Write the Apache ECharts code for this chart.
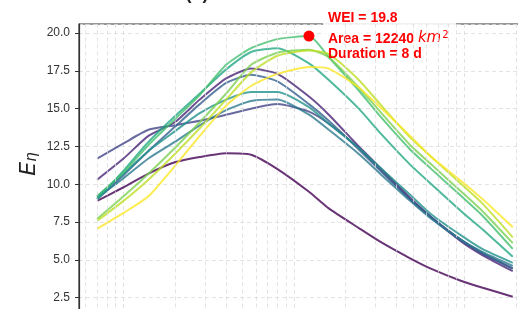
<!DOCTYPE html>
<html>
<head>
<meta charset="utf-8">
<title>WEI curves</title>
<script src="https://cdn.jsdelivr.net/npm/echarts@6.0.0/dist/echarts.min.js"></script>
<style>
  html, body { margin: 0; padding: 0; background: #fff; }
  #chart { width: 518px; height: 309px; }
</style>
</head>
<body>
<div id="chart"></div>
<script>
// area (km2) on a log axis, one curve per event duration
var AREA = [700, 1000, 1400, 2000, 2800, 4000, 5600, 8000, 12240, 16000, 24000, 32000, 48000, 64000, 96000, 128000, 192000];

var D1  = [8.9, 9.8, 10.7, 11.45, 11.8, 12.05, 11.95, 11.0, 9.5, 8.4, 7.1, 6.2, 5.1, 4.4, 3.6, 3.15, 2.56];
var D2  = [10.3, 11.7, 13.2, 14.1, 15.6, 17.0, 17.65, 17.3, 15.8, 14.6, 12.5, 11.1, 9.1, 7.8, 6.2, 5.3, 4.25];
var D3  = [11.7, 12.7, 13.6, 13.9, 14.2, 14.6, 15.0, 15.3, 14.8, 14.0, 12.4, 11.0, 9.0, 7.8, 6.3, 5.4, 4.45];
var D4  = [9.0, 10.6, 12.2, 13.8, 15.3, 16.7, 17.25, 16.8, 15.3, 14.2, 12.3, 10.9, 9.0, 7.8, 6.3, 5.45, 4.4];
var D5  = [9.1, 10.4, 11.7, 12.8, 13.9, 14.9, 15.5, 15.6, 14.6, 13.6, 12.0, 10.7, 8.9, 7.7, 6.3, 5.5, 4.6];
var D6  = [9.2, 10.7, 12.2, 13.5, 14.7, 15.6, 16.1, 16.1, 15.1, 14.0, 12.4, 11.1, 9.3, 8.0, 6.6, 5.7, 4.8];
var D7  = [9.0, 10.9, 12.8, 14.5, 16.0, 17.6, 18.75, 19.0, 18.0, 16.9, 15.0, 13.4, 11.3, 10.0, 8.2, 7.0, 5.21];
var D8  = [9.2, 10.8, 12.6, 14.3, 15.9, 17.9, 19.0, 19.6, 19.8, 18.4, 16.2, 14.5, 12.3, 11.0, 9.2, 7.9, 5.72];
var D9  = [7.7, 9.2, 10.7, 12.4, 14.1, 16.0, 17.9, 18.7, 18.9, 18.4, 16.4, 14.8, 12.6, 11.3, 9.5, 8.2, 6.1];
var D10 = [7.58, 8.9, 10.3, 12.0, 13.7, 15.6, 17.4, 18.5, 18.85, 18.6, 16.9, 15.3, 13.1, 11.8, 10.0, 8.7, 6.49];
var D11 = [7.05, 8.1, 9.2, 11.2, 13.2, 15.2, 16.5, 17.3, 17.75, 17.65, 16.4, 15.1, 13.2, 11.8, 10.2, 9.0, 7.15];

var DURATIONS = [1, 2, 3, 4, 5, 6, 7, 8, 9, 10, 11];
var COLORS = ['#440154', '#482475', '#414487', '#355f8d', '#2a788e', '#21918c',
              '#22a884', '#44bf70', '#7ad151', '#bddf26', '#fde725'];

// the WEI point (max over all curves)
var WEI_POINT = [12240, 19.8];

// minor log grid lines (2..9 x 10^k)
var MINOR_X = [600, 700, 800, 900,
               2000, 3000, 4000, 5000, 6000, 7000, 8000, 9000,
               20000, 30000, 40000, 50000, 60000, 70000, 80000, 90000,
               200000];

var Y_TICKS_STEP = 2.5;

var chart = echarts.init(document.getElementById('chart'), null, { renderer: 'canvas' });

var curves = [D1, D2, D3, D4, D5, D6, D7, D8, D9, D10, D11];
var gridColor = '#dcdcdc';

var series = [];
// dummy series carrying the minor vertical grid lines
series.push({
    type: 'line',
    data: [],
    z: 1,
    silent: true,
    markLine: {
        silent: true,
        symbol: 'none',
        label: { show: false },
        animation: false,
        lineStyle: { color: gridColor, type: [4, 3], width: 0.8 },
        data: MINOR_X.map(function (v) { return { xAxis: v }; })
    }
});
curves.forEach(function (vals, i) {
    series.push({
        type: 'line',
        name: DURATIONS[i] + ' d',
        data: AREA.map(function (a, j) { return [a, vals[j]]; }),
        showSymbol: false,
        smooth: 0.2,
        silent: true,
        z: 2,
        lineStyle: { width: 2, color: COLORS[i], opacity: 0.8 }
    });
});
series.push({
    type: 'scatter',
    data: [WEI_POINT],
    symbolSize: 11,
    z: 3,
    silent: true,
    itemStyle: { color: '#ff0000', opacity: 1 }
});

var option = {
    animation: false,
    backgroundColor: '#fff',
    grid: {
        left: 79, top: 24, right: -14, bottom: -26.4,
        containLabel: false,
        outerBoundsMode: 'none',
        show: true,
        borderColor: '#333', borderWidth: 1.2,
        backgroundColor: 'transparent'
    },
    xAxis: {
        type: 'log',
        logBase: 10,
        min: 548,
        max: 249000,
        axisLine: { show: false },
        axisTick: { show: false },
        axisLabel: { show: false },
        splitLine: { show: true, lineStyle: { color: gridColor, type: [4, 3], width: 0.8 } }
    },
    yAxis: {
        type: 'value',
        min: 0,
        max: 20.6,
        interval: Y_TICKS_STEP,
        axisLine: { show: true, lineStyle: { color: '#333', width: 1.2 } },
        axisTick: { show: true, length: 4, lineStyle: { color: '#333', width: 1 } },
        axisLabel: {
            showMaxLabel: false,
            margin: 9,
            color: '#333',
            fontSize: 12,
            fontFamily: 'Liberation Sans, Arial, sans-serif',
            formatter: function (v) { return v.toFixed(1); }
        },
        splitLine: { show: true, lineStyle: { color: gridColor, type: [4, 3], width: 0.8 } }
    },
    series: series,
    graphic: [
        {   // cut-off title above the plot, only its lowest pixels show
            type: 'text', x: 197, y: 3, z: 4,
            style: {
                text: '(b)', align: 'center', verticalAlign: 'bottom',
                font: 'bold 18px "Liberation Sans", Arial, sans-serif', fill: '#222'
            }
        },
        {   // y axis name E_eta
            type: 'text', x: 29, y: 164, rotation: Math.PI / 2, z: 4,
            style: {
                text: '{e|E}{s|η}', align: 'center', verticalAlign: 'middle',
                rich: {
                    e: { fontSize: 22, fontStyle: 'italic', fontFamily: 'DejaVu Sans', lineHeight: 22, verticalAlign: 'top', fill: '#222' },
                    s: { fontSize: 15, fontStyle: 'italic', fontFamily: 'DejaVu Sans', lineHeight: 16, padding: [9, 0, 0, 0], verticalAlign: 'bottom', fill: '#222' }
                }
            }
        },
        {   // white box behind the annotation
            type: 'rect', z: 1.5, silent: true,
            shape: { x: 323, y: 8, width: 133, height: 56 },
            style: { fill: 'rgba(255,255,255,0.85)' }
        },
        {
            type: 'text', x: 328, y: 18, z: 4,
            style: {
                text: 'WEI = 19.8', verticalAlign: 'middle',
                font: 'bold 14px "Liberation Sans", Arial, sans-serif', fill: '#ff0000'
            }
        },
        {
            type: 'text', x: 328, y: 38, z: 4,
            style: {
                text: '{b|Area = 12240 }{k|km}{s|2}', verticalAlign: 'middle',
                rich: {
                    b: { font: 'bold 14px "Liberation Sans", Arial, sans-serif', fill: '#ff0000', lineHeight: 16, padding: [5, 0, 0, 0], verticalAlign: 'bottom' },
                    k: { fontSize: 15, fontStyle: 'italic', fontFamily: 'DejaVu Sans', fill: '#ff0000', lineHeight: 16, padding: [5, 0, 0, 0], verticalAlign: 'bottom' },
                    s: { fontSize: 10, fontFamily: 'DejaVu Sans', fill: '#ff0000', lineHeight: 11, padding: [0, 0, 0, 1], verticalAlign: 'top' }
                }
            }
        },
        {
            type: 'text', x: 328, y: 54, z: 4,
            style: {
                text: 'Duration = 8 d', verticalAlign: 'middle',
                font: 'bold 14px "Liberation Sans", Arial, sans-serif', fill: '#ff0000'
            }
        }
    ]
};

chart.setOption(option);
</script>
</body>
</html>
